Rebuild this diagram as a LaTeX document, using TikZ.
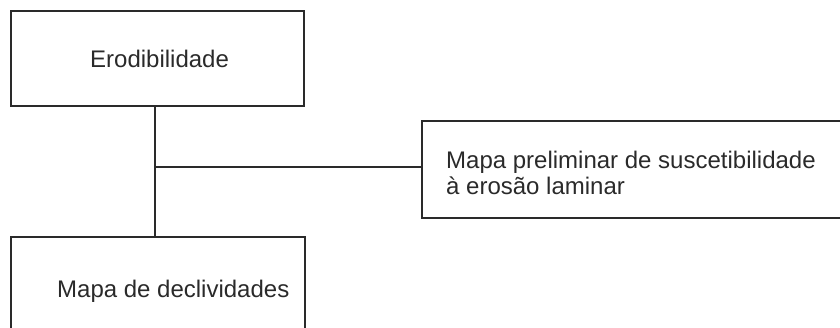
\documentclass[tikz,border=0pt]{standalone}
\usepackage{fontspec}
\setmainfont{Liberation Sans}
\definecolor{ink}{HTML}{2A2A2A}
\begin{document}
\begin{tikzpicture}[x=1pt,y=-1pt,
  box/.style={draw=ink, line width=1.8pt, inner sep=0pt, outer sep=0pt},
  conn/.style={draw=ink, line width=1.8pt},
  lbl/.style={font=\fontsize{24}{26}\selectfont, text=ink, anchor=base west, inner sep=0pt}]
\useasboundingbox (0,0) rectangle (840,328);
\clip (0,0) rectangle (840,328);
\node[box, minimum width=293pt, minimum height=95pt] (ero) at (157.5,58.5) {};
\node[box, minimum width=294pt, minimum height=103pt] (dec) at (158,288.5) {};
\node[box, minimum width=438pt, minimum height=97pt] (map) at (641,169.5) {};
\node[lbl] (t1) at (90,68) {Erodibilidade};
\node[lbl] (t2) at (57,298) {Mapa de declividades};
\node[lbl] (t3) at (446,169) {Mapa preliminar de suscetibilidade};
\node[lbl] (t4) at (446,195) {à erosão laminar};
\coordinate (j) at (155,167);
\draw[conn] (j |- ero.south) -- (j |- dec.north);
\draw[conn] (j) -- (j -| map.west);
\end{tikzpicture}
\end{document}
